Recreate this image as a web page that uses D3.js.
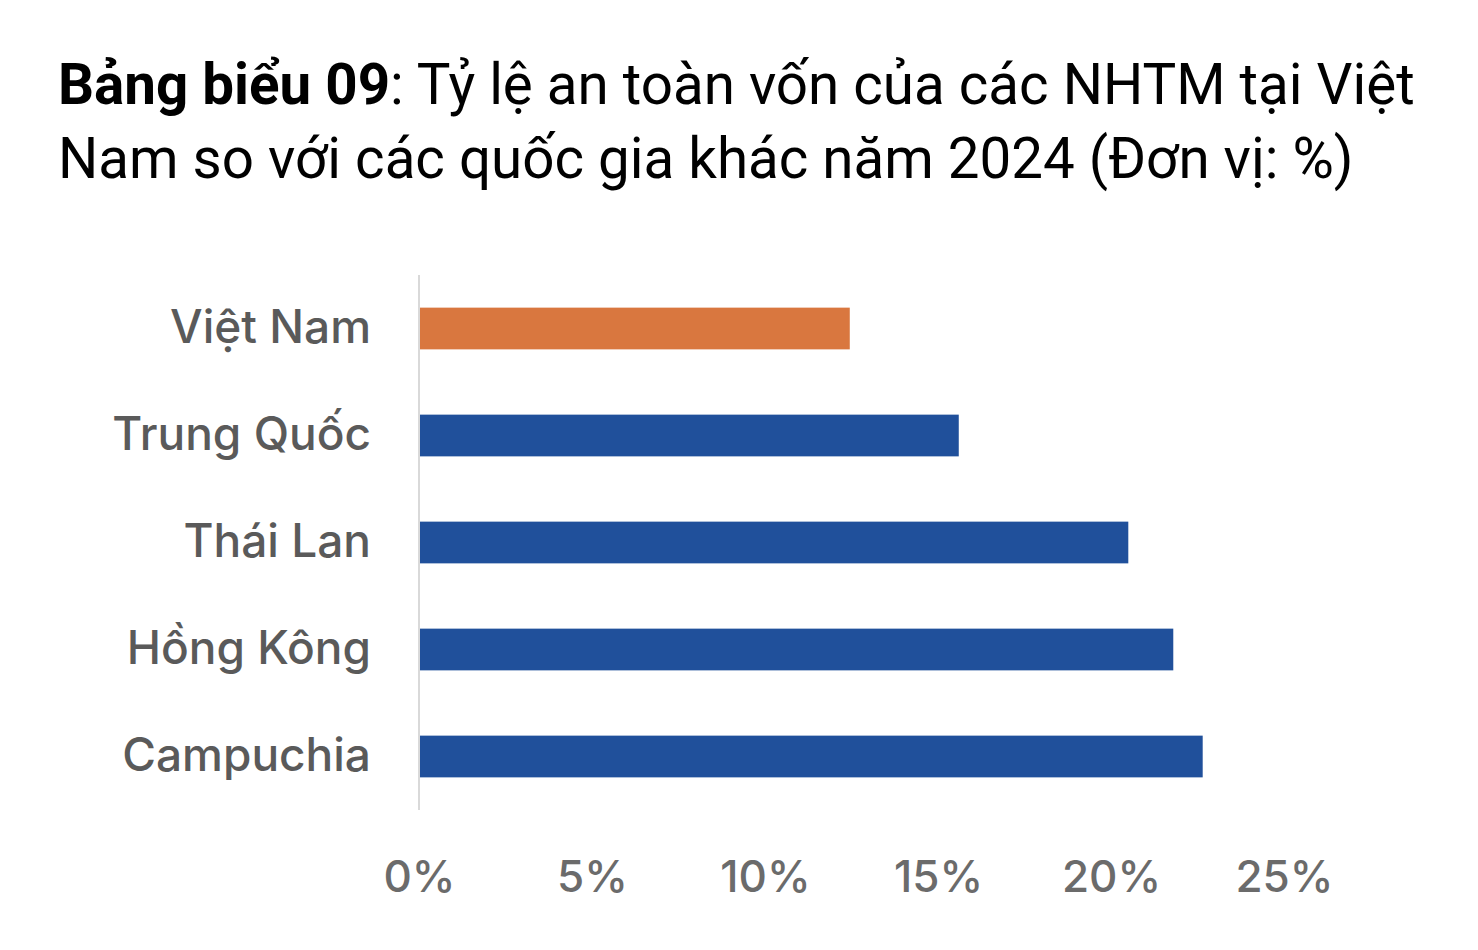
<!DOCTYPE html>
<html>
<head>
<meta charset="utf-8">
<script src="https://cdn.jsdelivr.net/npm/d3@7"></script>
<style>
  html, body { margin: 0; padding: 0; background: #fff; }
  svg { display: block; }
</style>
</head>
<body>
<svg id="chart" width="1478" height="950"></svg>
<script>
const countries = ['Việt Nam', 'Trung Quốc', 'Thái Lan', 'Hồng Kông', 'Campuchia'];
const carValues = [12.45, 15.6, 20.5, 21.8, 22.65];
const barColors = ['#D9773F', '#20509B', '#20509B', '#20509B', '#20509B'];
const xTicks = [0, 5, 10, 15, 20, 25];

const svg = d3.select('#chart');

// title, two lines
const title = svg.append('text')
  .attr('x', 58)
  .attr('y', 104)
  .style('font-family', 'Roboto, sans-serif')
  .style('font-size', '56.5px')
  .attr('fill', '#000');
title.append('tspan').style('font-weight', 700).text('Bảng biểu 09');
title.append('tspan').text(': Tỷ lệ an toàn vốn của các NHTM tại Việt');

svg.append('text')
  .attr('x', 58)
  .attr('y', 178)
  .style('font-family', 'Roboto, sans-serif')
  .style('font-size', '56.5px')
  .attr('fill', '#000')
  .text('Nam so với các quốc gia khác năm 2024 (Đơn vị: %)');

const x = d3.scaleLinear()
  .domain([0, 25])
  .range([419, 1284]);

const y = d3.scaleBand()
  .domain(countries)
  .range([275, 810])
  .paddingInner(0.61)
  .paddingOuter(0.305);

svg.append('g')
  .selectAll('rect')
  .data(countries)
  .join('rect')
  .attr('x', x(0))
  .attr('y', d => y(d))
  .attr('width', (d, i) => x(carValues[i]) - x(0))
  .attr('height', y.bandwidth())
  .attr('fill', (d, i) => barColors[i]);

// vertical axis line
svg.append('line')
  .attr('x1', x(0)).attr('x2', x(0))
  .attr('y1', 275).attr('y2', 810)
  .attr('stroke', '#d9d9d9')
  .attr('stroke-width', 2);

const yAxis = d3.axisLeft(y).tickSize(0).tickPadding(48);
const gy = svg.append('g')
  .attr('transform', `translate(${x(0)},0)`)
  .call(yAxis);
gy.select('.domain').remove();
gy.selectAll('text')
  .style('font-family', 'Inter, sans-serif')
  .style('font-size', '46px')
  .style('font-weight', 500)
  .attr('fill', '#5a5a5a');

const xAxis = d3.axisBottom(x)
  .tickValues(xTicks)
  .tickSize(0)
  .tickPadding(0)
  .tickFormat(d => d + '%');
const gx = svg.append('g')
  .attr('transform', 'translate(0,877)')
  .call(xAxis);
gx.select('.domain').remove();
gx.selectAll('text')
  .attr('dy', '0.35em')
  .style('font-family', 'Inter, sans-serif')
  .style('font-size', '44px')
  .style('font-weight', 500)
  .attr('fill', '#6b6b6b');
</script>
</body>
</html>
